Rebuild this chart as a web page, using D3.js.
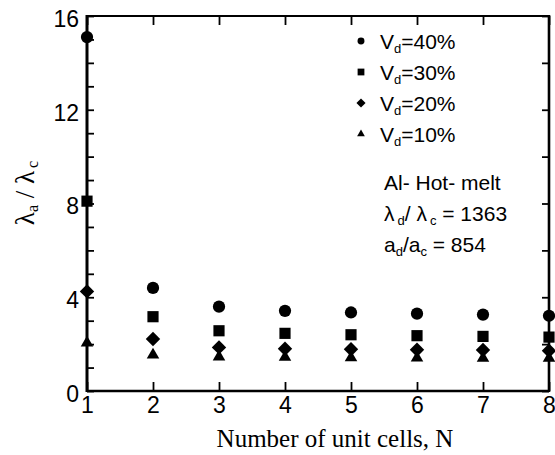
<!DOCTYPE html>
<html>
<head>
<meta charset="utf-8">
<script src="https://cdn.jsdelivr.net/npm/d3@7"></script>
<style>
  html, body { margin: 0; padding: 0; background: #fff; }
  svg { display: block; }
</style>
</head>
<body>
<svg id="chart" width="555" height="455"></svg>
<script>
// Number of unit cells
const cells = [1, 2, 3, 4, 5, 6, 7, 8];
// Conductivity ratio λa/λc for each dispersed volume fraction
const vd40 = [15.1, 4.4, 3.6, 3.42, 3.35, 3.3, 3.26, 3.21];
const vd30 = [8.1, 3.17, 2.57, 2.46, 2.4, 2.36, 2.33, 2.3];
const vd20 = [4.25, 2.22, 1.86, 1.8, 1.78, 1.76, 1.75, 1.72];
const vd10 = [2.05, 1.54, 1.46, 1.44, 1.42, 1.41, 1.4, 1.4];
const seriesNames = ["40%", "30%", "20%", "10%"];
const yTickLabels = [0, 4, 8, 12, 16];

const svg = d3.select("#chart");
const plotLeft = 87, plotRight = 549, plotTop = 16, plotBottom = 391;

const x = d3.scaleLinear().domain([1, 8]).range([plotLeft, plotRight]);
const y = d3.scaleLinear().domain([0, 16]).range([plotBottom, plotTop]);

const sans = "'Liberation Sans', Arial, Helvetica, sans-serif";
const serif = "'Liberation Serif', 'Times New Roman', serif";

// Diamond drawn as a square turned 45 degrees
const diamond = {
  draw(ctx, size) {
    const r = Math.sqrt(size / 2);
    ctx.moveTo(0, -r); ctx.lineTo(r, 0); ctx.lineTo(0, r); ctx.lineTo(-r, 0); ctx.closePath();
  }
};

const series = [
  { name: seriesNames[0], values: vd40, type: d3.symbolCircle, size: 118, legendSize: 38 },
  { name: seriesNames[1], values: vd30, type: d3.symbolSquare, size: 125, legendSize: 46 },
  { name: seriesNames[2], values: vd20, type: diamond, size: 104, legendSize: 42 },
  { name: seriesNames[3], values: vd10, type: d3.symbolTriangle, size: 68, legendSize: 26 }
];

// Axes with inward ticks
const gLeft = svg.append("g").attr("transform", `translate(${plotLeft},0)`)
  .call(d3.axisLeft(y).tickValues(d3.range(0, 17, 1)).tickSize(-7).tickPadding(8)
    .tickFormat(d => yTickLabels.includes(d) ? d : ""));
const gRight = svg.append("g").attr("transform", `translate(${plotRight},0)`)
  .call(d3.axisRight(y).tickValues(d3.range(0, 17, 2)).tickSize(-7).tickFormat(""));
const gTop = svg.append("g").attr("transform", `translate(0,${plotTop})`)
  .call(d3.axisTop(x).tickValues(cells).tickSize(-9).tickFormat(""));
const gBottom = svg.append("g").attr("transform", `translate(0,${plotBottom})`)
  .call(d3.axisBottom(x).tickValues(cells).tickSize(-9).tickPadding(6).tickFormat(d3.format("d")));

[gLeft, gRight, gTop, gBottom].forEach(g => {
  g.select(".domain").remove();
  g.selectAll(".tick line").attr("stroke", "#000").attr("stroke-width", 1.8);
  g.selectAll("text").attr("font-family", sans).attr("font-size", 23).attr("fill", "#000");
});
gLeft.selectAll("text").attr("dy", "0.45em");

// Frame
const frame = svg.append("g").attr("stroke", "#000").attr("fill", "none");
frame.append("line").attr("x1", plotLeft).attr("x2", plotRight).attr("y1", plotTop).attr("y2", plotTop).attr("stroke-width", 2.2);
frame.append("line").attr("x1", plotLeft).attr("x2", plotRight).attr("y1", plotBottom).attr("y2", plotBottom).attr("stroke-width", 2.6);
frame.append("line").attr("x1", plotLeft).attr("x2", plotLeft).attr("y1", plotTop - 1).attr("y2", plotBottom + 1).attr("stroke-width", 3);
frame.append("line").attr("x1", plotRight).attr("x2", plotRight).attr("y1", plotTop - 1).attr("y2", plotBottom + 1).attr("stroke-width", 2.6);

// Data markers
series.forEach(s => {
  svg.append("g").selectAll("path")
    .data(cells.map((n, i) => ({ n, v: s.values[i] })))
    .join("path")
    .attr("transform", d => `translate(${x(d.n)},${y(d.v)})`)
    .attr("d", d3.symbol().type(s.type).size(s.size))
    .attr("fill", "#000");
});

// Legend
const legend = svg.append("g").attr("font-family", sans).attr("font-size", 21);
series.forEach((s, i) => {
  const yy = 41 + i * 31;
  legend.append("path")
    .attr("transform", `translate(361,${yy})`)
    .attr("d", d3.symbol().type(s.type).size(s.legendSize))
    .attr("fill", "#000");
  const t = legend.append("text").attr("x", 380).attr("y", yy + 7.5);
  t.append("tspan").text("V");
  t.append("tspan").attr("font-size", 13).attr("dy", 4).text("d");
  t.append("tspan").attr("dy", -4).text("=" + s.name);
});

// Material annotation
const note = svg.append("g").attr("font-family", sans).attr("font-size", 21).attr("fill", "#000");
note.append("text").attr("x", 384).attr("y", 190).text("Al- Hot- melt");
const l2 = note.append("text").attr("x", 384).attr("y", 221);
l2.append("tspan").text("λ");
l2.append("tspan").attr("font-size", 13).attr("dx", 3).attr("dy", 4).text("d");
l2.append("tspan").attr("dy", -4).text("/ λ");
l2.append("tspan").attr("font-size", 13).attr("dx", 3).attr("dy", 4).text("c");
l2.append("tspan").attr("dy", -4).text(" = 1363");
const l3 = note.append("text").attr("x", 384).attr("y", 252);
l3.append("tspan").text("a");
l3.append("tspan").attr("font-size", 13).attr("dy", 4).text("d");
l3.append("tspan").attr("dy", -4).text("/a");
l3.append("tspan").attr("font-size", 13).attr("dy", 4).text("c");
l3.append("tspan").attr("dy", -4).text(" = 854");

// Axis titles
svg.append("text")
  .attr("x", 335).attr("y", 447)
  .attr("text-anchor", "middle")
  .attr("font-family", serif).attr("font-size", 25)
  .text("Number of unit cells, N");

const yt = svg.append("text")
  .attr("transform", `translate(34,193) rotate(-90)`)
  .attr("text-anchor", "middle")
  .attr("font-family", serif).attr("font-size", 27);
yt.append("tspan").text("λ");
yt.append("tspan").attr("font-size", 16).attr("dy", 4).text("a");
yt.append("tspan").attr("dy", -4).text(" / λ");
yt.append("tspan").attr("font-size", 16).attr("dx", 3).attr("dy", 4).text("c");
</script>
</body>
</html>
